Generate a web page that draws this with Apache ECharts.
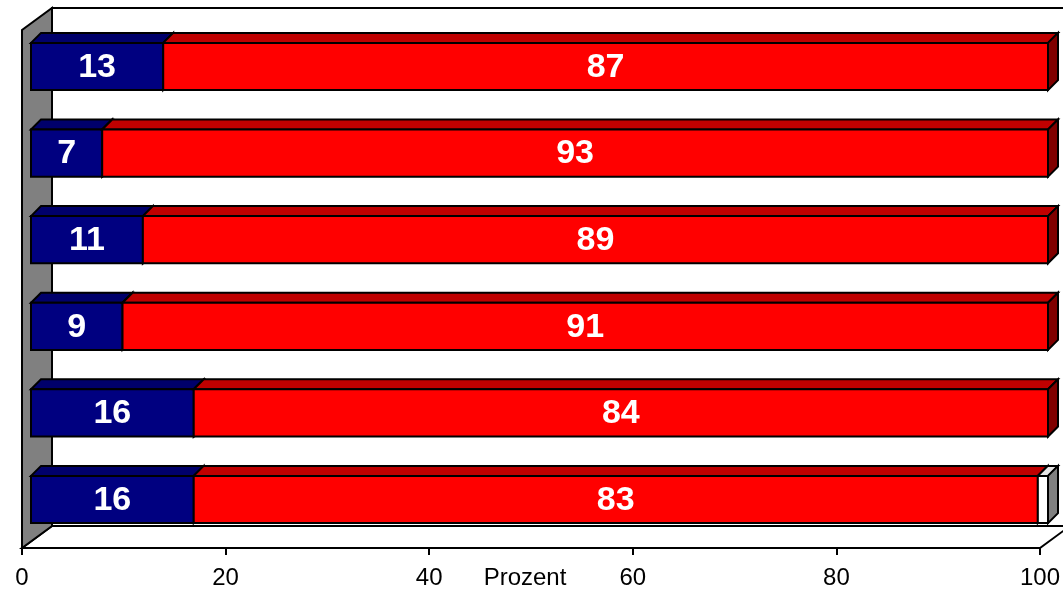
<!DOCTYPE html>
<html>
<head>
<meta charset="utf-8">
<script src="https://cdn.jsdelivr.net/npm/echarts@6/dist/echarts.min.js"></script>
<style>
html,body{margin:0;padding:0;background:#fff;}
#chart{width:1063px;height:591px;}
</style>
</head>
<body>
<div id="chart"></div>
<script>
// ---- data ----
var categories = ['1', '2', '3', '4', '5', '6'];
var blueValues = [13, 7, 11, 9, 16, 16];
var redValues = [87, 93, 89, 91, 84, 83];
var whiteValues = [0, 0, 0, 0, 0, 1];
var xTicks = [0, 20, 40, 60, 80, 100];
var axisName = 'Prozent';

var seriesDefs = [
  { name: 'blau', values: blueValues, front: '#000080', top: '#00006b', side: '#000050', label: true },
  { name: 'rot', values: redValues, front: '#ff0000', top: '#c00000', side: '#800000', label: true },
  { name: 'weiss', values: whiteValues, front: '#ffffff', top: '#e6e6e6', side: '#808080', label: false }
];

var FONT = '"Liberation Sans", Arial, sans-serif';

// cumulative stacking
var cum = categories.map(function () { return 0; });
var customSeries = seriesDefs.map(function (def, sIdx) {
  var data = [];
  def.values.forEach(function (v, i) {
    var s = cum[i];
    cum[i] += v;
    if (v > 0) data.push([i, s, s + v, v]);
  });
  return {
    type: 'custom',
    name: def.name,
    xAxisIndex: 1,
    yAxisIndex: 1,
    z: 5 + sIdx,
    encode: { x: [1, 2], y: 0 },
    data: data,
    renderItem: function (params, api) {
      var cat = api.value(0);
      var p0 = api.coord([api.value(1), cat]);
      var p1 = api.coord([api.value(2), cat]);
      var h = api.size([0, 1])[1] * 0.545;
      var d = 10;
      var x0 = p0[0], x1 = p1[0];
      var yT = p0[1] - h / 2, yB = p0[1] + h / 2;
      var stroke = { stroke: '#000', lineWidth: 2, lineJoin: 'miter' };
      var children = [
        { type: 'polygon', shape: { points: [[x0, yT], [x0 + d, yT - d], [x1 + d, yT - d], [x1, yT]] },
          style: Object.assign({ fill: def.top }, stroke) },
        { type: 'polygon', shape: { points: [[x1, yT], [x1 + d, yT - d], [x1 + d, yB - d], [x1, yB]] },
          style: Object.assign({ fill: def.side }, stroke) },
        { type: 'rect', shape: { x: x0, y: yT, width: x1 - x0, height: yB - yT },
          style: Object.assign({ fill: def.front }, stroke) }
      ];
      if (def.label) {
        children.push({ type: 'text', style: {
          x: (x0 + x1) / 2, y: (yT + yB) / 2 + 1, text: String(api.value(3)),
          fill: '#fff', font: 'bold 34px ' + FONT,
          align: 'center', verticalAlign: 'middle' } });
      }
      return { type: 'group', children: children };
    }
  };
});

var chart = echarts.init(document.getElementById('chart'), null, { renderer: 'canvas' });
var option = {
  animation: false,
  backgroundColor: '#fff',
  grid: [
    { left: 22, right: 23, top: 30, bottom: 43, containLabel: false, outerBoundsMode: 'none' },
    { left: 31, right: 15, top: 23.2, bottom: 48.2, containLabel: false, outerBoundsMode: 'none' }
  ],
  xAxis: [
    { type: 'value', gridIndex: 0, min: xTicks[0], max: xTicks[xTicks.length - 1], interval: 20,
      name: axisName, nameLocation: 'middle', nameGap: 18, nameMoveOverlap: false,
      nameTextStyle: { fontSize: 24, color: '#000', fontFamily: FONT, padding: [0, 12, 0, 0], verticalAlign: 'top' },
      axisLine: { show: true, lineStyle: { color: '#000', width: 2 } },
      axisTick: { show: true, length: 7, lineStyle: { color: '#000', width: 2 } },
      axisLabel: { fontSize: 24, color: '#000', margin: 18, fontFamily: FONT, hideOverlap: false },
      splitLine: { show: false } },
    { type: 'value', gridIndex: 1, min: 0, max: 100, show: false, splitLine: { show: false } }
  ],
  yAxis: [
    { type: 'category', gridIndex: 0, data: categories, inverse: true, show: false },
    { type: 'category', gridIndex: 1, data: categories, inverse: true, show: false }
  ],
  series: customSeries
};
chart.setOption(option);

// walls & floor (3D frame) derived from the axis grid
var dx = 30, dy = -22;
var rect = chart.getModel().getComponent('grid', 0).coordinateSystem.getRect();
var L = rect.x, R = rect.x + rect.width, T = rect.y, B = rect.y + rect.height;
chart.setOption({
  graphic: [
    { type: 'polygon', z: 1, shape: { points: [[L + dx, T + dy], [1100, T + dy], [1100, B + dy], [L + dx, B + dy]] },
      style: { fill: '#fff', stroke: '#000', lineWidth: 2 } },
    { type: 'polygon', z: 1, shape: { points: [[L, B], [R, B], [R + dx, B + dy], [L + dx, B + dy]] },
      style: { fill: '#fff', stroke: '#000', lineWidth: 2 } },
    { type: 'polygon', z: 1, shape: { points: [[L, B], [L, T], [L + dx, T + dy], [L + dx, B + dy]] },
      style: { fill: '#808080', stroke: '#000', lineWidth: 2 } }
  ]
});
</script>
</body>
</html>
